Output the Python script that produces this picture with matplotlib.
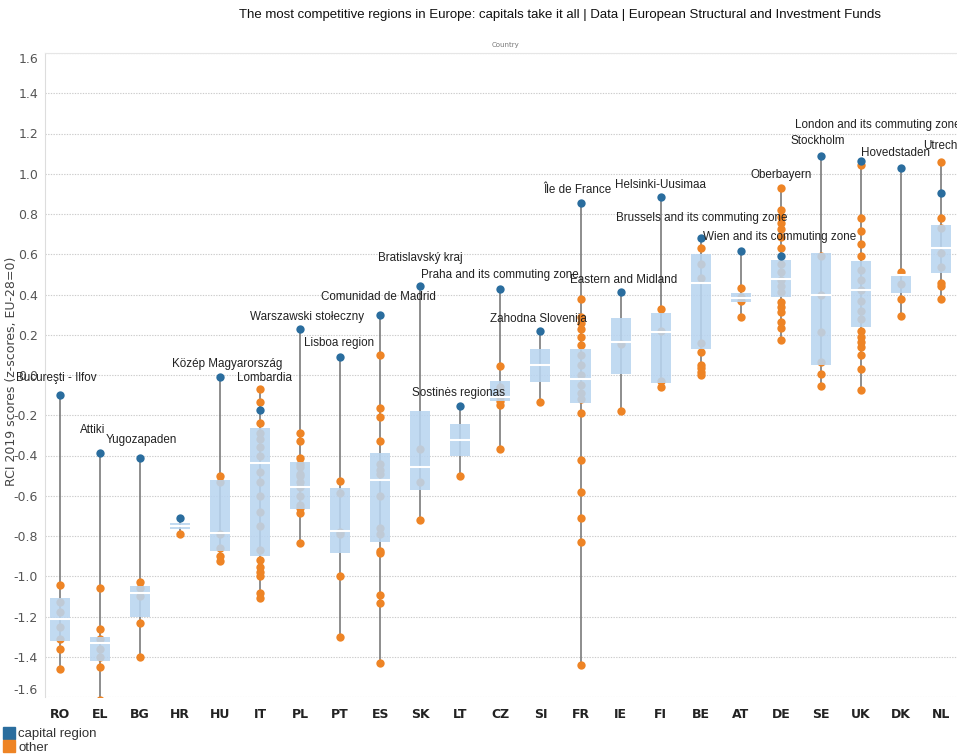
import matplotlib.pyplot as plt
from matplotlib.lines import Line2D

plt.rcParams['axes.unicode_minus'] = False

countries = ['RO', 'EL', 'BG', 'HR', 'HU', 'IT', 'PL', 'PT', 'ES', 'SK', 'LT', 'CZ',
             'SI', 'FR', 'IE', 'FI', 'BE', 'AT', 'DE', 'SE', 'UK', 'DK', 'NL']

# score of the capital region in each country
capital = [-0.10, -0.39, -0.41, -0.71, -0.01, -0.175, 0.23, 0.09, 0.30, 0.44, -0.155, 0.425,
           0.22, 0.855, 0.41, 0.885, 0.68, 0.615, 0.59, 1.09, 1.065, 1.03, 0.905]

# scores of the other regions
others = [
    [-1.045, -1.13, -1.18, -1.25, -1.31, -1.36, -1.46],
    [-1.06, -1.26, -1.31, -1.36, -1.40, -1.45, -1.615],
    [-1.03, -1.06, -1.10, -1.23, -1.40],
    [-0.79],
    [-0.50, -0.53, -0.79, -0.86, -0.90, -0.925],
    [-0.07, -0.135, -0.24, -0.29, -0.32, -0.36, -0.40, -0.48, -0.53, -0.60, -0.68, -0.75,
     -0.87, -0.92, -0.955, -0.98, -1.00, -1.085, -1.11],
    [-0.29, -0.33, -0.41, -0.44, -0.455, -0.49, -0.50, -0.53, -0.555, -0.60, -0.645, -0.66,
     -0.685, -0.835],
    [-0.525, -0.585, -0.78, -0.79, -1.00, -1.30],
    [0.10, -0.165, -0.21, -0.33, -0.44, -0.47, -0.49, -0.60, -0.76, -0.79, -0.875, -0.885,
     -1.095, -1.135, -1.43],
    [-0.37, -0.53, -0.72],
    [-0.50],
    [0.045, -0.06, -0.09, -0.11, -0.13, -0.15, -0.37],
    [-0.135],
    [0.38, 0.29, 0.26, 0.23, 0.19, 0.15, 0.10, 0.05, 0.0, -0.05, -0.09, -0.12, -0.19, -0.42,
     -0.58, -0.71, -0.83, -1.44],
    [0.155, -0.18],
    [0.33, 0.22, -0.03, -0.06],
    [0.63, 0.55, 0.48, 0.16, 0.115, 0.05, 0.035, 0.015, 0.0],
    [0.43, 0.39, 0.37, 0.29],
    [0.93, 0.82, 0.785, 0.755, 0.725, 0.685, 0.63, 0.55, 0.51, 0.47, 0.44, 0.41, 0.365, 0.34,
     0.315, 0.265, 0.235, 0.175],
    [0.59, 0.40, 0.215, 0.065, 0.005, -0.055],
    [1.045, 0.78, 0.715, 0.65, 0.59, 0.52, 0.47, 0.42, 0.37, 0.32, 0.28, 0.22, 0.19, 0.165,
     0.14, 0.10, 0.03, -0.075],
    [0.51, 0.45, 0.38, 0.295],
    [1.06, 0.78, 0.73, 0.605, 0.535, 0.455, 0.44, 0.38],
]

# box: lower quartile, median, upper quartile
q1 = [-1.32, -1.42, -1.20, -0.765, -0.875, -0.90, -0.665, -0.885, -0.83, -0.57, -0.40, -0.13,
      -0.035, -0.14, 0.005, -0.04, 0.13, 0.365, 0.39, 0.05, 0.24, 0.405, 0.505]
median = [-1.21, -1.33, -1.085, -0.75, -0.785, -0.435, -0.555, -0.775, -0.52, -0.455, -0.325,
          -0.11, 0.05, -0.02, 0.165, 0.215, 0.455, 0.385, 0.475, 0.40, 0.42, 0.495, 0.63]
q3 = [-1.11, -1.30, -1.05, -0.735, -0.52, -0.265, -0.43, -0.56, -0.39, -0.18, -0.245, -0.03,
      0.13, 0.13, 0.285, 0.31, 0.60, 0.405, 0.57, 0.605, 0.565, 0.50, 0.745]

# name of the best scoring region
top_region = ['Bucureşti - Ilfov', 'Attiki', 'Yugozapaden', None, 'Közép Magyarország',
              'Lombardia', 'Warszawski stołeczny', 'Lisboa region', 'Comunidad de Madrid',
              'Bratislavský kraj', 'Sostinės regionas', 'Praha and its commuting zone',
              'Zahodna Slovenija', 'Île de France', 'Eastern and Midland', 'Helsinki-Uusimaa',
              'Brussels and its commuting zone', 'Wien and its commuting zone', 'Oberbayern',
              'Stockholm', 'London and its commuting zone', 'Hovedstaden', 'Utrecht']

# label shift from the top dot, in pixels
label_shift = [(-4, 17), (-7, 23), (1, 18), (0, 0), (7, 13), (4, 11), (7, 12), (-1, 14),
               (-2, 18), (0, 28), (-2, 13), (-1, 14), (-2, 12), (-3, 13), (3, 12), (0, 12),
               (1, 20), (39, 14), (0, 13), (-3, 15), (17, 36), (-5, 15), (1, 16)]

blue = '#2a6d9e'
orange = '#ee8425'
box_blue = '#b9d5f0'
font = ['Liberation Sans', 'DejaVu Sans']

fig = plt.figure(figsize=(9.57, 7.56), dpi=100)
ax = fig.add_axes([45 / 957, 59 / 756, 912 / 957, 644 / 756])

for i, c in enumerate(countries):
    vals = others[i] + [capital[i]]
    ax.plot([i, i], [min(vals), max(vals)], color='#7a7a7a', lw=1.2, zorder=1)
    ax.scatter([i] * len(others[i]), others[i], s=36, color=orange, zorder=2, lw=0)
    ax.bar(i, q3[i] - q1[i], bottom=q1[i], width=0.5, color=box_blue, alpha=0.88, zorder=3)
    ax.plot([i - 0.25, i + 0.25], [median[i], median[i]], color='white', lw=1.5, zorder=4)
    ax.scatter([i], [capital[i]], s=36, color=blue, zorder=5, lw=0)
    if top_region[i]:
        ax.annotate(top_region[i], (i, max(vals)), xytext=label_shift[i],
                    textcoords='offset pixels', ha='center', va='center',
                    fontsize=8.4, family=font, color='#222222', zorder=6)

ax.set_xlim(-0.37, 22.4)
ax.set_ylim(-1.6, 1.6)
ax.set_yticks([1.6, 1.4, 1.2, 1.0, 0.8, 0.6, 0.4, 0.2, 0.0, -0.2, -0.4, -0.6, -0.8, -1.0,
               -1.2, -1.4, -1.6])
ax.yaxis.set_major_formatter(lambda v, pos: f'{v:.1f}')
ax.set_xticks(range(len(countries)))
ax.set_xticklabels(countries, fontweight='bold', fontsize=9, color='#222222')
ax.tick_params(axis='both', length=0)
ax.tick_params(axis='x', pad=8)
ax.tick_params(axis='y', pad=5, labelsize=9, labelcolor='#555555')
ylabels = ax.get_yticklabels()
ylabels[0].set_va('top')
ylabels[-1].set_va('bottom')

ax.grid(axis='y', linestyle=(0, (1.2, 1.2)), color='#cccccc', lw=0.8)
ax.set_axisbelow(True)
for side in ['right', 'bottom']:
    ax.spines[side].set_visible(False)
ax.spines['left'].set_color('#dddddd')
ax.spines['top'].set_color('#e6e6e6')

fig.text(560 / 957, 1 - 15 / 756, 'The most competitive regions in Europe: capitals take it all'
         ' | Data | European Structural and Investment Funds',
         ha='center', va='center', fontsize=9.5, family=font, color='#111111')
fig.text(505 / 957, 1 - 45 / 756, 'Country', ha='center', va='center', fontsize=5,
         color='#777777')
fig.text(12 / 957, 1 - 371 / 756, 'RCI 2019 scores (z-scores, EU-28=0)', rotation=90,
         ha='center', va='center', fontsize=9, color='#444444')

handles = [Line2D([], [], marker='s', ls='', color=blue, markersize=8),
           Line2D([], [], marker='s', ls='', color=orange, markersize=8)]
fig.legend(handles, ['capital region', 'other'], loc='upper left',
           bbox_to_anchor=(-0.006, 1 - 719 / 756), frameon=False,
           handlelength=0.8, handletextpad=0.3, labelspacing=0.1, borderpad=0.2,
           labelcolor='#333333', prop={'family': font, 'size': 9.5})

fig.savefig('out.png', dpi=100)
